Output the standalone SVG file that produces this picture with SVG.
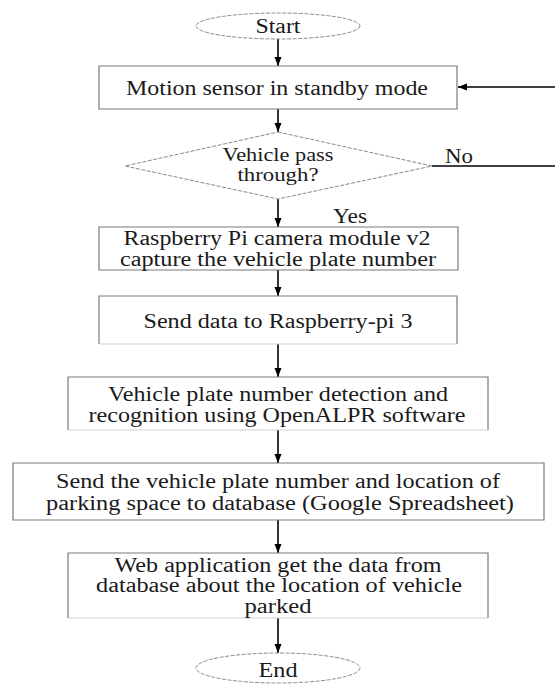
<svg xmlns="http://www.w3.org/2000/svg" width="555" height="684" viewBox="0 0 555 684">
<defs>
<marker id="ah" markerWidth="10" markerHeight="10" refX="9" refY="5" orient="auto" markerUnits="userSpaceOnUse">
<path d="M0,1.5 L9,5 L0,8.5 Z" fill="#000"/>
</marker>
<style>
text{font-family:"Liberation Serif","Times New Roman",serif;font-size:20px;fill:#1a1a1a;text-anchor:middle}
.small{font-size:18px}
.box{fill:none;stroke:#7a7a7a;stroke-width:1.2}
.faint{fill:none;stroke:#cfcfcf;stroke-width:1}
.term{fill:#fff;stroke:#8a8a8a;stroke-width:1;stroke-dasharray:4 1.5}
.con{fill:none;stroke:#000;stroke-width:1.6}
</style>
</defs>
<rect width="555" height="684" fill="#fff"/>
<g id="connectors">
<line class="con" x1="278" y1="39" x2="278" y2="66" marker-end="url(#ah)"/>
<line class="con" x1="278" y1="109" x2="278" y2="132" marker-end="url(#ah)"/>
<line class="con" x1="278" y1="199" x2="278" y2="227" marker-end="url(#ah)"/>
<line class="con" x1="278" y1="270" x2="278" y2="296" marker-end="url(#ah)"/>
<line class="con" x1="278" y1="344" x2="278" y2="377" marker-end="url(#ah)"/>
<line class="con" x1="278" y1="430" x2="278" y2="463" marker-end="url(#ah)"/>
<line class="con" x1="278" y1="520" x2="278" y2="553" marker-end="url(#ah)"/>
<line class="con" x1="278" y1="618" x2="278" y2="653" marker-end="url(#ah)"/>
<line class="con" x1="432" y1="166" x2="555" y2="166"/>
<line class="con" x1="555" y1="87" x2="458" y2="87" marker-end="url(#ah)"/>
<text x="459" y="163" textLength="28" lengthAdjust="spacingAndGlyphs">No</text>
<text x="350" y="223" textLength="34" lengthAdjust="spacingAndGlyphs">Yes</text>
</g>
<g id="start">
<ellipse class="term" cx="278" cy="26" rx="82" ry="13"/>
<text x="278" y="33" textLength="45" lengthAdjust="spacingAndGlyphs">Start</text>
</g>
<g id="standby">
<path class="box" d="M99,66 H457 V109 H99 Z"/>
<text x="277" y="95" textLength="302" lengthAdjust="spacingAndGlyphs">Motion sensor in standby mode</text>
</g>
<g id="decision">
<polygon class="term" points="278,132 432,166 278,199 125,166"/>
<text class="small" x="278" y="161" textLength="111" lengthAdjust="spacingAndGlyphs">Vehicle pass</text>
<text class="small" x="278" y="181" textLength="81" lengthAdjust="spacingAndGlyphs">through?</text>
</g>
<g id="capture">
<path class="box" d="M99,227 H458 V270 H99 Z"/>
<text x="277" y="245" textLength="307" lengthAdjust="spacingAndGlyphs">Raspberry Pi camera module v2</text>
<text x="278" y="266" textLength="316" lengthAdjust="spacingAndGlyphs">capture the vehicle plate number</text>
</g>
<g id="send">
<path class="box" d="M99,344 V296 H457 V344"/>
<path class="faint" d="M99,344 H457"/>
<text x="278" y="328" textLength="269" lengthAdjust="spacingAndGlyphs">Send data to Raspberry-pi 3</text>
</g>
<g id="detect">
<path class="box" d="M68,430 V377 H488 V430"/>
<path class="faint" d="M68,430 H488"/>
<text x="278" y="401" textLength="340" lengthAdjust="spacingAndGlyphs">Vehicle plate number detection and</text>
<text x="277" y="422" textLength="377" lengthAdjust="spacingAndGlyphs">recognition using OpenALPR software</text>
</g>
<g id="database">
<path class="box" d="M13,463 H544 V520 H13 Z"/>
<text x="278" y="488" textLength="444" lengthAdjust="spacingAndGlyphs">Send the vehicle plate number and location of</text>
<text x="280" y="510" textLength="468" lengthAdjust="spacingAndGlyphs">parking space to database (Google Spreadsheet)</text>
</g>
<g id="webapp">
<path class="box" d="M68,618 V553 H488 V618"/>
<path class="faint" d="M68,618 H488"/>
<text x="278" y="572" textLength="327" lengthAdjust="spacingAndGlyphs">Web application get the data from</text>
<text x="279" y="592" textLength="366" lengthAdjust="spacingAndGlyphs">database about the location of vehicle</text>
<text x="278" y="613" textLength="67" lengthAdjust="spacingAndGlyphs">parked</text>
</g>
<g id="end">
<ellipse class="term" cx="278" cy="668" rx="82" ry="15"/>
<text x="278" y="677" textLength="39" lengthAdjust="spacingAndGlyphs">End</text>
</g>
</svg>
